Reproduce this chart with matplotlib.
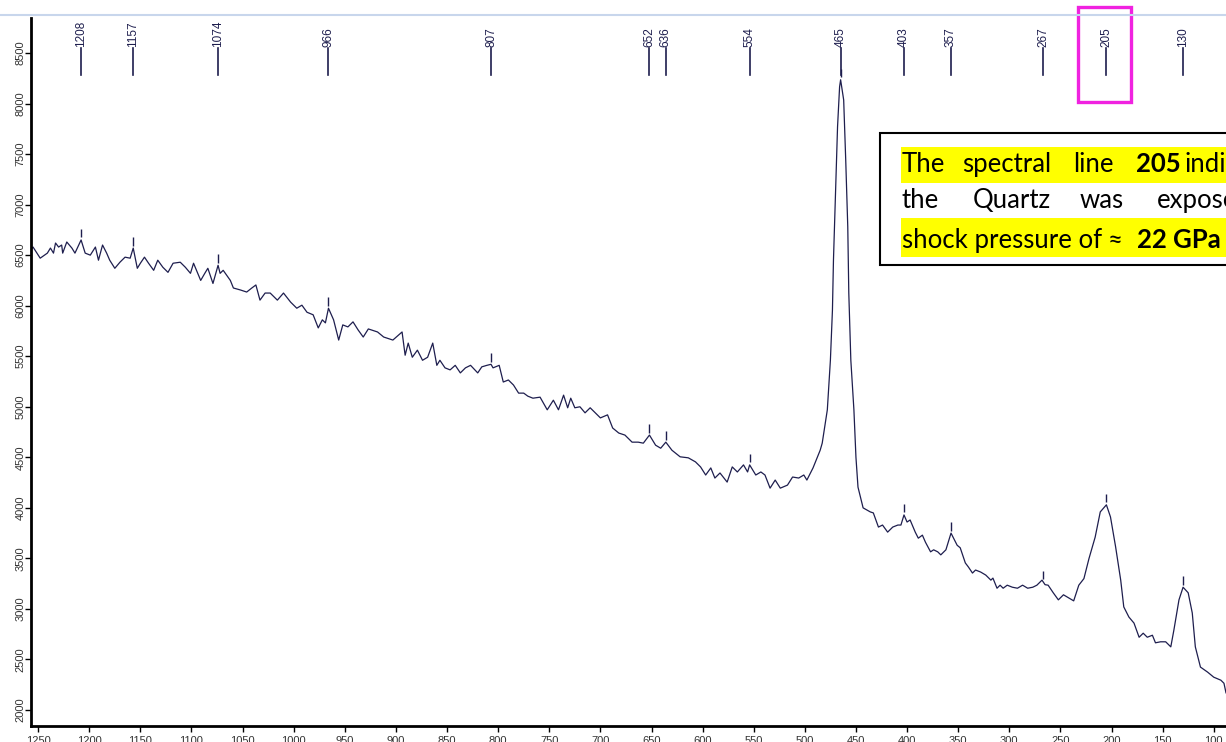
import numpy as np
import matplotlib.pyplot as plt
from matplotlib.patches import Rectangle
from matplotlib.lines import Line2D

# Raman shift (cm-1) and counts
shift = [1257, 1256, 1255, 1248, 1241, 1238, 1235, 1233, 1230, 1227,
         1226, 1222, 1217, 1214, 1208, 1204, 1199, 1194, 1191, 1187,
         1183, 1180, 1175, 1170, 1165, 1160, 1157, 1153, 1150, 1146,
         1142, 1137, 1133, 1128, 1123, 1118, 1111, 1106, 1101, 1098,
         1091, 1087, 1084, 1079, 1074, 1072, 1069, 1062, 1059, 1052,
         1046, 1041, 1037, 1033, 1028, 1023, 1016, 1010, 1003, 997,
         992, 987, 981, 976, 972, 969, 966, 961, 956, 952,
         947, 942, 937, 932, 927, 918, 912, 903, 894, 891,
         888, 884, 879, 874, 869, 864, 860, 857, 852, 847,
         842, 837, 832, 827, 820, 816, 811, 807, 805, 799,
         795, 790, 785, 780, 775, 771, 766, 759, 752, 746,
         741, 736, 732, 729, 725, 720, 715, 710, 705, 700,
         693, 688, 682, 676, 669, 663, 658, 652, 646, 641,
         636, 630, 622, 614, 607, 602, 597, 592, 588, 583,
         576, 571, 566, 560, 556, 554, 548, 543, 539, 534,
         529, 524, 517, 512, 506, 501, 498, 492, 485, 483,
         478, 475, 473, 472, 470, 468, 466, 465, 462, 460,
         458, 457, 455, 452, 450, 448, 443, 436, 433, 428,
         424, 419, 414, 409, 406, 403, 400, 397, 392, 389,
         385, 382, 377, 374, 370, 367, 362, 357, 351, 348,
         343, 340, 336, 333, 328, 323, 318, 316, 312, 309,
         306, 302, 297, 292, 287, 282, 277, 273, 268, 265,
         262, 257, 252, 247, 242, 237, 232, 227, 222, 216,
         211, 205, 201, 196, 191, 188, 183, 178, 173, 169,
         165, 160, 157, 152, 147, 142, 139, 134, 130, 125,
         121, 118, 113, 106, 100, 93, 90, 88]

intensity = [6550, 6570, 6580, 6470, 6520, 6570, 6520, 6620, 6580, 6600,
             6520, 6630, 6570, 6520, 6650, 6520, 6500, 6580, 6450, 6600,
             6520, 6450, 6370, 6430, 6480, 6470, 6570, 6370, 6420, 6480,
             6420, 6350, 6450, 6380, 6330, 6420, 6430, 6380, 6320, 6420,
             6250, 6320, 6370, 6220, 6400, 6320, 6350, 6250, 6175, 6155,
             6135, 6175, 6205, 6055, 6125, 6125, 6055, 6125, 6035, 5975,
             6005, 5935, 5910, 5780, 5860, 5830, 5975, 5860, 5660, 5810,
             5790, 5840, 5760, 5690, 5770, 5740, 5690, 5660, 5740, 5510,
             5630, 5490, 5560, 5460, 5490, 5630, 5410, 5460, 5385, 5365,
             5410, 5335, 5385, 5410, 5335, 5395, 5410, 5420, 5385, 5410,
             5245, 5265, 5215, 5135, 5135, 5105, 5085, 5095, 4970, 5065,
             4970, 5115, 4990, 5085, 4990, 5000, 4940, 4990, 4940, 4890,
             4920, 4790, 4740, 4720, 4650, 4650, 4640, 4720, 4620, 4590,
             4650, 4570, 4505, 4495, 4455, 4405, 4325, 4395, 4295, 4345,
             4255, 4405, 4355, 4425, 4355, 4425, 4325, 4355, 4325, 4195,
             4275, 4195, 4225, 4305, 4295, 4325, 4275, 4395, 4570, 4640,
             4970, 5460, 5955, 6450, 7115, 7770, 8165, 8235, 8035, 7440,
             6780, 6125, 5460, 4970, 4500, 4205, 4000, 3960, 3950, 3810,
             3830, 3760, 3810, 3830, 3830, 3930, 3860, 3880, 3760, 3700,
             3730, 3660, 3565, 3585, 3565, 3535, 3585, 3750, 3630, 3605,
             3455, 3415, 3355, 3385, 3365, 3335, 3285, 3305, 3205, 3235,
             3205, 3235, 3215, 3205, 3235, 3205, 3215, 3235, 3285, 3240,
             3235, 3160, 3090, 3140, 3110, 3080, 3235, 3300, 3500, 3710,
             3960, 4030, 3910, 3615, 3285, 3020, 2920, 2860, 2720, 2760,
             2720, 2740, 2665, 2675, 2675, 2625, 2790, 3090, 3215, 3160,
             2960, 2625, 2425, 2375, 2325, 2295, 2265, 2170]

peaks = [1208, 1157, 1074, 966, 807, 652, 636, 554, 465, 403, 357, 267, 205, 130]

x_ticks = list(range(100, 1251, 50))
y_ticks = list(range(2000, 8501, 500))

navy = '#1e1e4e'
W, H = 1226, 742

plt.rcParams['font.family'] = ['Liberation Sans', 'DejaVu Sans']

fig = plt.figure(figsize=(W / 100, H / 100), dpi=100)
fig.patch.set_facecolor('white')


def fx(px):
    return px / W


def fy(py):
    return 1 - py / H


ax = fig.add_axes([fx(31), fy(726), 1 - fx(31), (726 - 18) / H])
ax.plot(shift, intensity, color=navy, lw=0.9)

# little marks over each picked peak
s_up = np.array(shift[::-1])
i_up = np.array(intensity[::-1])
tops = np.interp(peaks, s_up, i_up)
ax.vlines(peaks, tops + 25, tops + 110, color=navy, lw=1)

# peak labels along the top
for p in peaks:
    ax.plot([p, p], [8280, 8550], color=navy, lw=1.2)
    ax.text(p, 8555, str(p), rotation=90, ha='center', va='bottom',
            fontsize=8.5, color=navy)

ax.set_xlim(1257, 88)
ax.set_ylim(1842, 8846)
ax.set_xticks(x_ticks)
ax.set_yticks(y_ticks)
ax.tick_params(direction='out', length=4, width=1, labelsize=8,
               labelcolor='#333333')
ax.tick_params(axis='x', pad=3)
ax.tick_params(axis='y', pad=0, labelrotation=90)
for lbl in ax.get_yticklabels():
    lbl.set_va('center')
for side in ['top', 'right']:
    ax.spines[side].set_visible(False)
for side in ['left', 'bottom']:
    ax.spines[side].set_linewidth(2)

# thin frame line across the top
fig.add_artist(Line2D([0, 1], [fy(15), fy(15)], transform=fig.transFigure,
                      color='#c8d6ec', lw=1.5))

# magenta highlight around 205
fig.add_artist(Rectangle((fx(1078), fy(102)), fx(1131) - fx(1078), (102 - 7) / H,
                         transform=fig.transFigure, fill=False,
                         edgecolor='#f022e0', lw=2.4))

# annotation box
fig.add_artist(Rectangle((fx(880), fy(265)), fx(1260) - fx(880), (265 - 133) / H,
                         transform=fig.transFigure, facecolor='white',
                         edgecolor='black', lw=1.5, zorder=2))
for top, bot in [(147, 183), (218, 257)]:
    fig.add_artist(Rectangle((fx(901), fy(bot)), fx(1260) - fx(901), (bot - top) / H,
                             transform=fig.transFigure, facecolor='#ffff00',
                             edgecolor='none', zorder=2.5))

box_font = ['Lato', 'DejaVu Sans']
words = [
    (902, 172, 'The', 'normal'), (962, 172, 'spectral', 'normal'),
    (1073, 172, 'line', 'normal'), (1136, 172, '205', 'bold'),
    (1184, 172, 'indicates', 'normal'),
    (902, 208, 'the', 'normal'), (973, 208, 'Quartz', 'normal'),
    (1080, 208, 'was', 'normal'), (1157, 208, 'exposed', 'normal'),
    (902, 248, 'shock pressure of', 'normal'), (1108, 248, '\u2248', 'normal'),
    (1137, 248, '22 GPa', 'bold'),
]
for px, py, w, wt in words:
    fig.text(fx(px), fy(py), w, ha='left', va='baseline', fontsize=18.5,
             fontweight=wt, family=box_font, color='black', zorder=3)

fig.savefig('out.png', dpi=100, facecolor='white')
